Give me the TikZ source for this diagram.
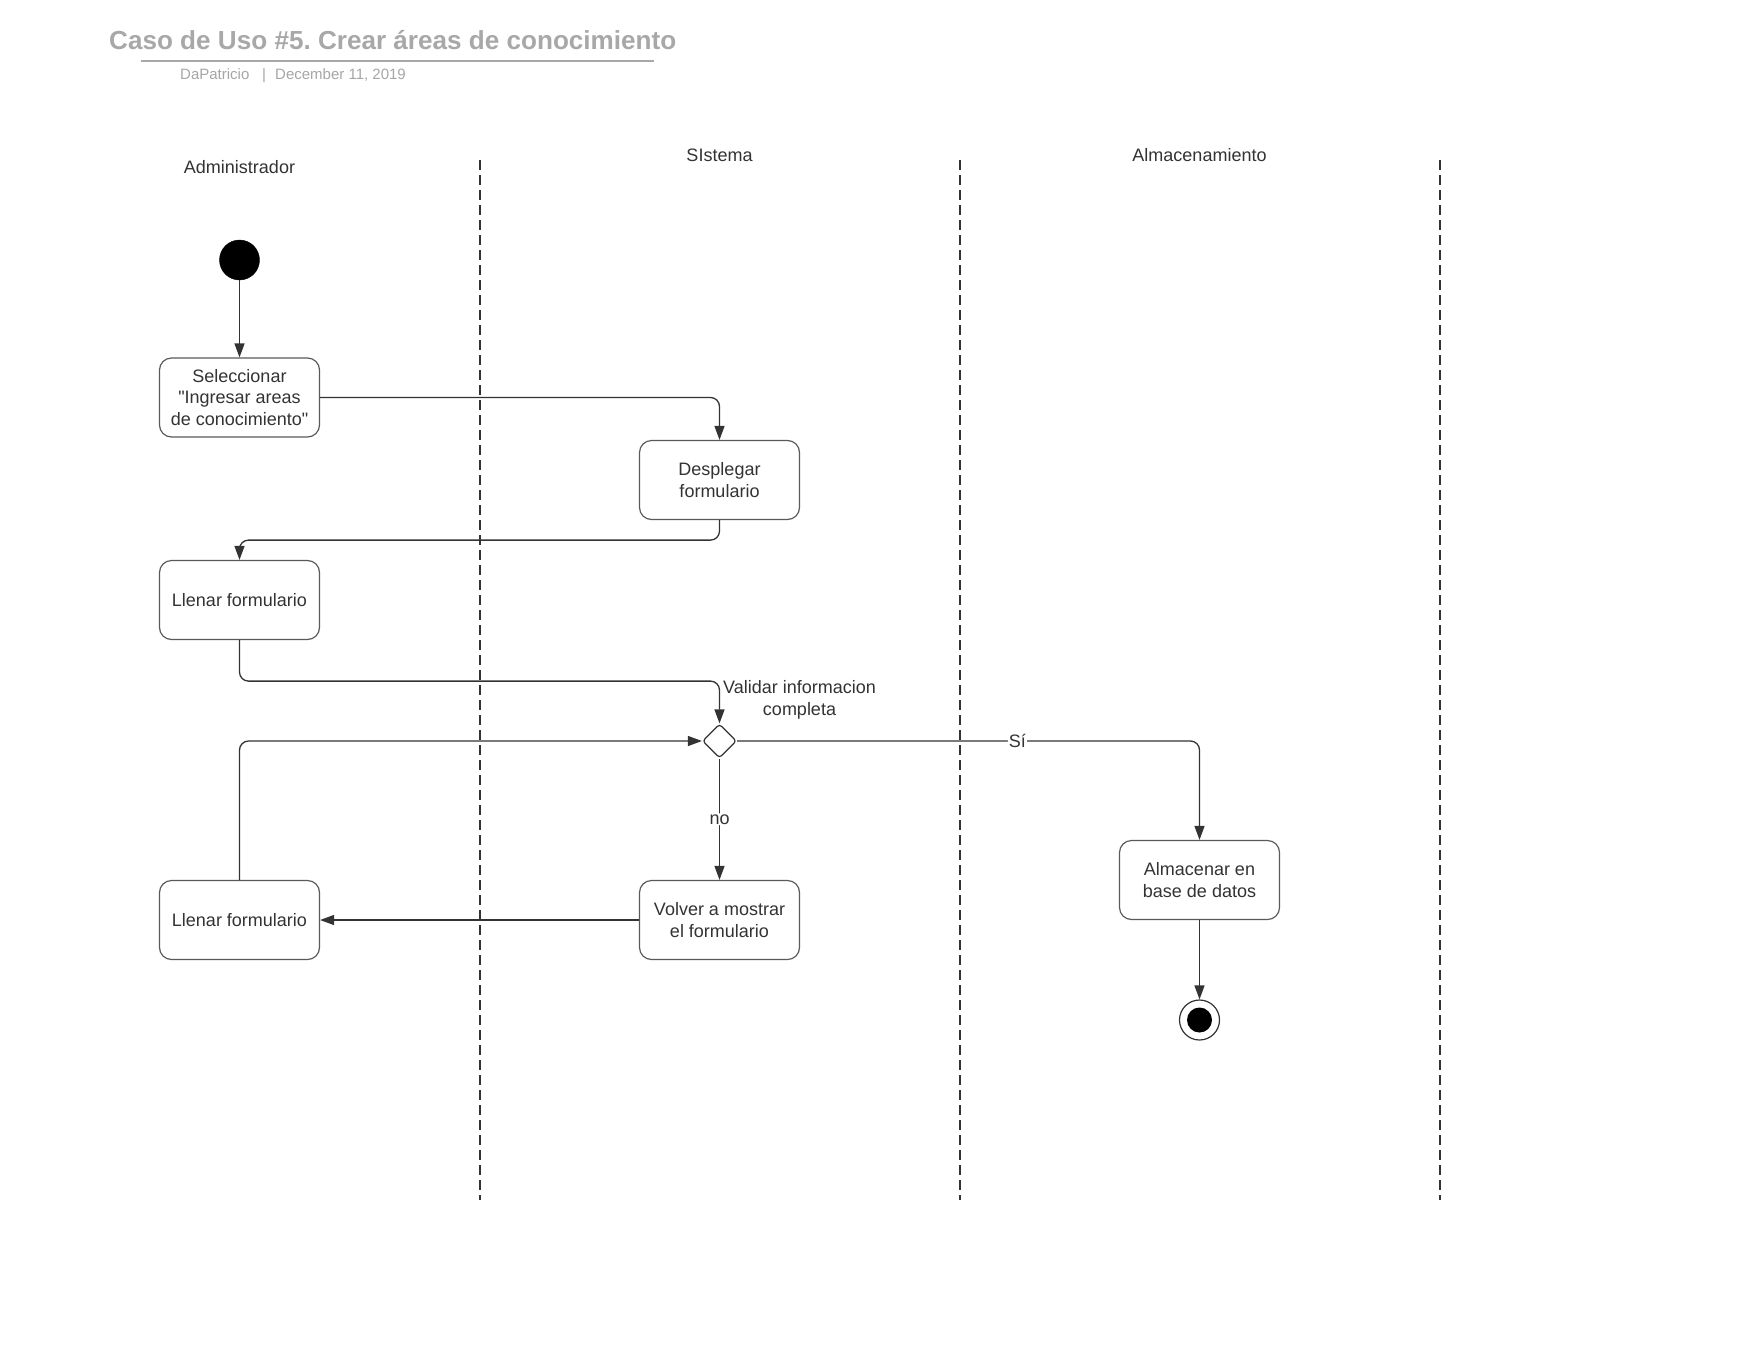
\documentclass[tikz,border=0pt]{standalone}
\usepackage{fontspec}
\setmainfont{Liberation Sans}[Ligatures=TeXOff]
\usetikzlibrary{arrows.meta,shapes.geometric}
\definecolor{ink}{HTML}{333333}
\definecolor{boxline}{HTML}{5A5A5A}
\definecolor{titlegray}{HTML}{A8A8A8}
\definecolor{subgray}{HTML}{A6A6A6}
\newcommand{\bodyfont}{\fontsize{18}{21.8}\selectfont}
\newcommand{\sq}{\char"22\relax}
\frenchspacing
\begin{document}
\begin{tikzpicture}[x=1pt,y=-1pt,
  act/.style={draw=boxline, line width=1.2pt, rounded corners=12pt, fill=white,
    minimum width=160pt, minimum height=79pt, align=center, font=\bodyfont, text=ink, inner sep=2pt},
  flow/.style={draw=ink, line width=1.3pt, rounded corners=9pt,
    -{Triangle[length=14pt,width=10pt]}},
  lane/.style={draw=ink, line width=1.2pt, dash pattern=on 10pt off 5pt},
  lanelabel/.style={font=\bodyfont, text=ink},
  edgelabel/.style={font=\bodyfont, text=ink, fill=white, inner sep=1pt}]
\useasboundingbox (0,0) rectangle (1760,1360);
\fill[white] (0,0) rectangle (1760,1360);

% header
\node[anchor=base west, inner sep=0pt, font=\bfseries\fontsize{26.1}{30}\selectfont, text=titlegray]
  (title) at (109,49) {Caso de Uso \#5. Crear áreas de conocimiento};
\draw[titlegray, line width=2pt] (141,61) -- (654,61);
\node[anchor=base west, inner sep=0pt, font=\fontsize{15}{18}\selectfont, text=subgray]
  (author) at (180,79.5) {DaPatricio};
\node[anchor=base, inner sep=0pt, font=\fontsize{15}{18}\selectfont, text=subgray]
  (sep) at (264,79.5) {|};
\node[anchor=base west, inner sep=0pt, font=\fontsize{15}{18}\selectfont, text=subgray]
  (date) at (275,79.5) {December 11, 2019};

% swimlanes
\node[lanelabel] (admin) at (239.5,167) {Administrador};
\node[lanelabel] (sist) at (719.5,155) {SIstema};
\node[lanelabel] (alma) at (1199.5,155) {Almacenamiento};
\draw[lane] (480,160) -- (480,1200);
\draw[lane] (960,160) -- (960,1200);
\draw[lane] (1440,160) -- (1440,1200);

% activity nodes
\node[circle, fill=black, draw=black, minimum size=40pt, inner sep=0pt] (start) at (239.5,260) {};
\node[act] (sel) at (239.5,397.5) {Seleccionar\\\sq Ingresar areas\\de conocimiento\sq};
\node[act] (desp) at (719.5,480) {Desplegar\\formulario};
\node[act] (ll1) at (239.5,600) {Llenar formulario};
\node[diamond, draw=ink, line width=1.2pt, rounded corners=3pt, fill=white,
  minimum width=34pt, minimum height=34pt, inner sep=0pt] (dec) at (719.5,741) {};
\node[font=\bodyfont, text=ink, align=center] (declabel) at (799.5,699.5) {Validar informacion\\completa};
\node[act] (volv) at (719.5,920) {Volver a mostrar\\el formulario};
\node[act] (ll2) at (239.5,920) {Llenar formulario};
\node[act] (alm) at (1199.5,880) {Almacenar en\\base de datos};
\node[circle, draw=ink, line width=1.2pt, fill=white, minimum size=40pt, inner sep=0pt] (fin) at (1199.5,1020) {};
\node[circle, fill=black, minimum size=25pt, inner sep=0pt] (finin) at (fin.center) {};

% control flow
\draw[flow] (start.south) -- (sel.north);
\draw[flow] (sel.east) -| (desp.north);
\draw[flow] (desp.south) -- ++(0,20) -| (ll1.north);
\draw[flow] (ll1.south) -- ++(0,41) -| (dec.north);
\draw[flow] (dec.east) -| node[edgelabel, pos=0.303] {Sí} (alm.north);
\draw[flow] (dec.south) -- node[edgelabel, pos=0.5] {no} (volv.north);
\draw[flow] (volv.west) -- (ll2.east);
\draw[flow] (ll2.north) |- (dec.west);
\draw[flow] (alm.south) -- (fin.north);
\end{tikzpicture}
\end{document}
